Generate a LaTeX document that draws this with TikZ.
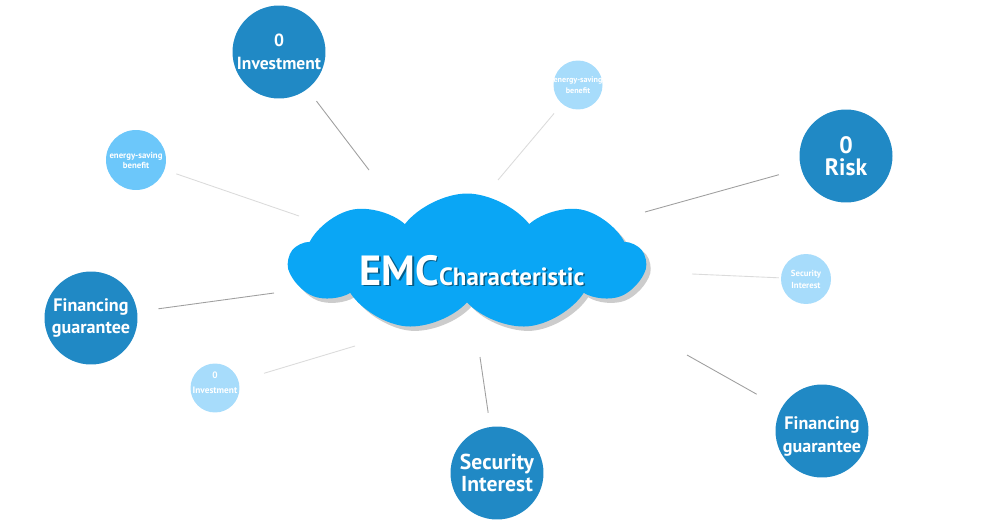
\documentclass[tikz,border=0pt]{standalone}
\usepackage{fontspec}
\setmainfont{PT Sans}
\usepackage{xcolor}
\usetikzlibrary{shapes.symbols, shadows}
\definecolor{darkblue}{HTML}{2089C5}
\definecolor{cloudblue}{HTML}{0AA6F5}
\definecolor{paleblue}{HTML}{A7DCFB}
\definecolor{skyblue}{HTML}{6CC7FA}
\tikzset{
  bigdot/.style={circle, fill=darkblue, minimum size=1.86cm, inner sep=0pt},
  smalldot/.style={circle, fill=paleblue, minimum size=0.98cm, inner sep=0pt},
  txt/.style 2 args={text=white, align=center, font=\bfseries\fontsize{#1}{#2}\selectfont},
  spoke/.style={draw=gray!75, line width=0.5pt},
  faint/.style={draw=gray!28, line width=0.5pt}
}

\begin{document}
\begin{tikzpicture}[x=0.02cm, y=-0.02cm]
    \useasboundingbox (0,0) rectangle (1000,527);

    % the cloud in the middle
    \node (emc) [cloud, cloud puffs=9, cloud puff arc=105, cloud ignores aspect,
        minimum width=7.1cm, minimum height=2.74cm, fill=cloudblue,
        drop shadow={fill=black, opacity=0.2, shadow xshift=2.5pt, shadow yshift=-2.5pt}] at (467,262) {};
    \node (emcs) [anchor=base, text=black, opacity=0.45, font=\bfseries] at (473.5,286.5)
        {\fontsize{24}{24}\selectfont EMC\fontsize{14.2}{14}\selectfont Characteristic};
    \node (emct) [anchor=base, text=white, font=\bfseries] at (472,285)
        {\fontsize{24}{24}\selectfont EMC\fontsize{14.2}{14}\selectfont Characteristic};

    % circles round it
    \node (inv0) [bigdot, label={[txt={10}{13}]center:0\\Investment}] at (279,52) {};
    \node (save1) [smalldot, label={[txt={4.6}{6.2}]center:energy-saving\\benefit}] at (578,85) {};
    \node (risk0) [bigdot, label={[txt={13.5}{12.6}]center:0\\Risk}] at (846,156) {};
    \node (sec1) [smalldot, minimum size=1cm, label={[txt={5}{6.8}]center:Security\\Interest}] at (806,279) {};
    \node (fin2) [bigdot, label={[txt={10.3}{13}, yshift=-3pt]center:Financing\\guarantee}] at (822,431) {};
    \node (sec2) [bigdot, label={[txt={12.3}{13}]center:Security\\Interest}] at (497,473) {};
    \node (inv1) [smalldot, label={[txt={5.3}{8.5}, yshift=3pt]center:0\\Investment}] at (215,388) {};
    \node (fin1) [bigdot, label={[txt={10.3}{13}]center:Financing\\guarantee}] at (91,318) {};
    \node (save2) [smalldot, fill=skyblue, minimum size=1.2cm, label={[txt={5}{5.7}]center:energy-saving\\benefit}] at (136,160) {};

    % loose ends near the cloud
    \coordinate (inv0-e) at (369,170);
    \coordinate (save1-e) at (498,180);
    \coordinate (risk0-e) at (645,212);
    \coordinate (sec1-e) at (692,274);
    \coordinate (fin2-e) at (687,355);
    \coordinate (sec2-e) at (480,357);
    \coordinate (inv1-e) at (355,346);
    \coordinate (fin1-e) at (274,293);
    \coordinate (save2-e) at (299,216);

    \draw [spoke, shorten <=8.5pt] (inv0) -- (inv0-e);
    \draw [faint, shorten <=7pt] (save1) -- (save1-e);
    \draw [spoke, shorten <=13pt] (risk0) -- (risk0-e);
    \draw [faint, shorten <=1pt] (sec1) -- (sec1-e);
    \draw [spoke, shorten <=16pt] (fin2) -- (fin2-e);
    \draw [spoke, shorten <=8pt] (sec2) -- (sec2-e);
    \draw [faint, shorten <=15pt] (inv1) -- (inv1-e);
    \draw [spoke, shorten <=12pt] (fin1) -- (fin1-e);
    \draw [faint, shorten <=7pt] (save2) -- (save2-e);
\end{tikzpicture}
\end{document}
